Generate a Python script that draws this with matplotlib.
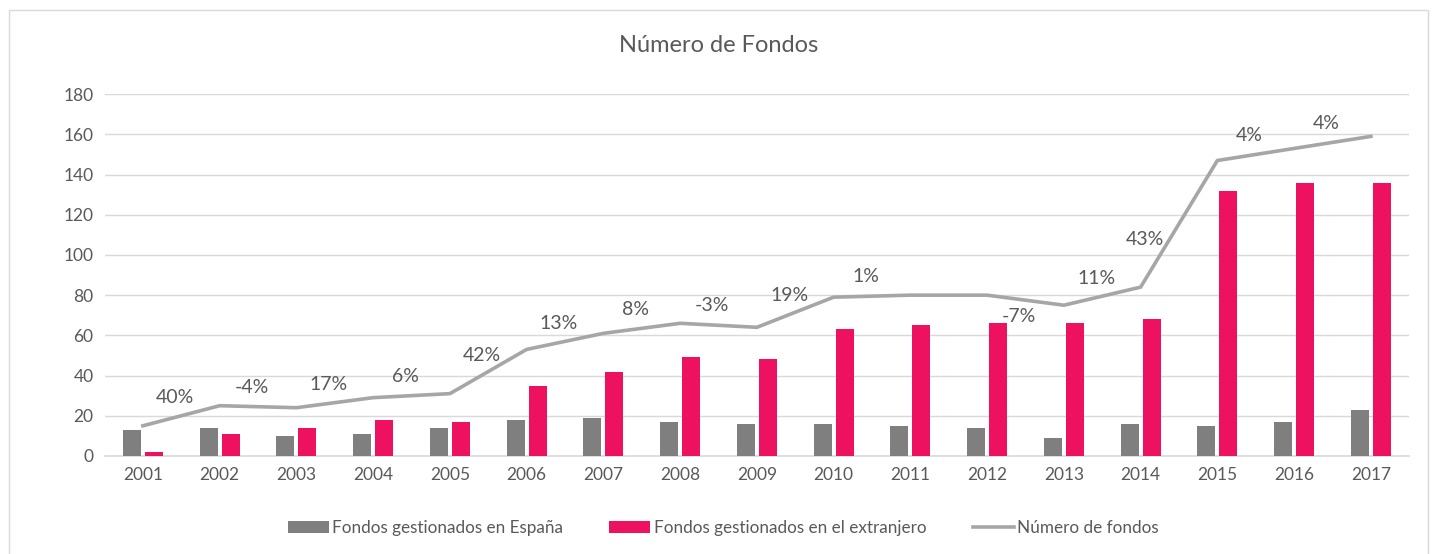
import numpy as np
import matplotlib.pyplot as plt
from matplotlib.patches import Rectangle

plt.rcParams['font.family'] = ['Lato', 'DejaVu Sans']

years = ['2001', '2002', '2003', '2004', '2005', '2006', '2007', '2008', '2009',
         '2010', '2011', '2012', '2013', '2014', '2015', '2016', '2017']
espana = [13, 14, 10, 11, 14, 18, 19, 17, 16, 16, 15, 14, 9, 16, 15, 17, 23]
extranjero = [2, 11, 14, 18, 17, 35, 42, 49, 48, 63, 65, 66, 66, 68, 132, 136, 136]
total = [15, 25, 24, 29, 31, 53, 61, 66, 64, 79, 80, 80, 75, 84, 147, 153, 159]
pct_labels = ['40%', '-4%', '17%', '6%', '42%', '13%', '8%', '-3%', '19%', '1%',
              '', '-7%', '11%', '43%', '4%', '4%', '']

text_col = '#595959'
fig = plt.figure(figsize=(14.38, 5.54), dpi=100)
ax = fig.add_axes([0.0727, 0.177, 0.9073, 0.653])

x = np.arange(len(years))
w = 0.235
ax.bar(x - 0.143, espana, w, color='#7f7f7f', label='Fondos gestionados en España', zorder=3)
ax.bar(x + 0.143, extranjero, w, color='#ee1160', label='Fondos gestionados en el extranjero', zorder=3)
ax.plot(x, total, color='#a6a6a6', lw=2.6, label='Número de fondos', zorder=4)

# labels sit between points, just above the line (a couple placed by hand in the original)
for i, lab in enumerate(pct_labels):
    if not lab:
        continue
    shift, dy = 0.42, 14
    if lab == '-7%':
        dy = -12
    elif lab == '43%':
        shift, dy = 0.05, 30
    lx = x[i] + shift
    ly = np.interp(lx, x, total)
    ax.annotate(lab, (lx, ly), xytext=(0, dy), textcoords='offset points',
                ha='center', va='center', fontsize=14, color=text_col, zorder=5)

ax.set_xlim(-0.5, len(years) - 0.5)
ax.set_ylim(0, 180)
ax.set_yticks(range(0, 181, 20))
ax.set_xticks(x)
ax.set_xticklabels(years)
ax.tick_params(axis='both', length=0, labelsize=12.5, colors=text_col, pad=8)
ax.yaxis.grid(True, color='#d9d9d9', lw=1, zorder=0)
for s in ['top', 'right', 'left']:
    ax.spines[s].set_visible(False)
ax.spines['bottom'].set_color('#d9d9d9')
ax.spines['bottom'].set_linewidth(1.2)

fig.text(0.5, 0.918, 'Número de Fondos', ha='center', va='center', fontsize=17, color=text_col)

h, l = ax.get_legend_handles_labels()
order = [1, 2, 0]
leg = fig.legend([h[k] for k in order], [l[k] for k in order], loc='center',
                 bbox_to_anchor=(0.503, 0.047), ncol=3, frameon=False,
                 fontsize=12.3, handlelength=2.4, handleheight=0.7, columnspacing=2.7,
                 handletextpad=0.2)
for t in leg.get_texts():
    t.set_color(text_col)

fig.patches.append(Rectangle((0.006, -0.01), 0.987, 0.992, transform=fig.transFigure,
                             fill=False, edgecolor='#d9d9d9', lw=1))

fig.savefig('out.png', dpi=100)
